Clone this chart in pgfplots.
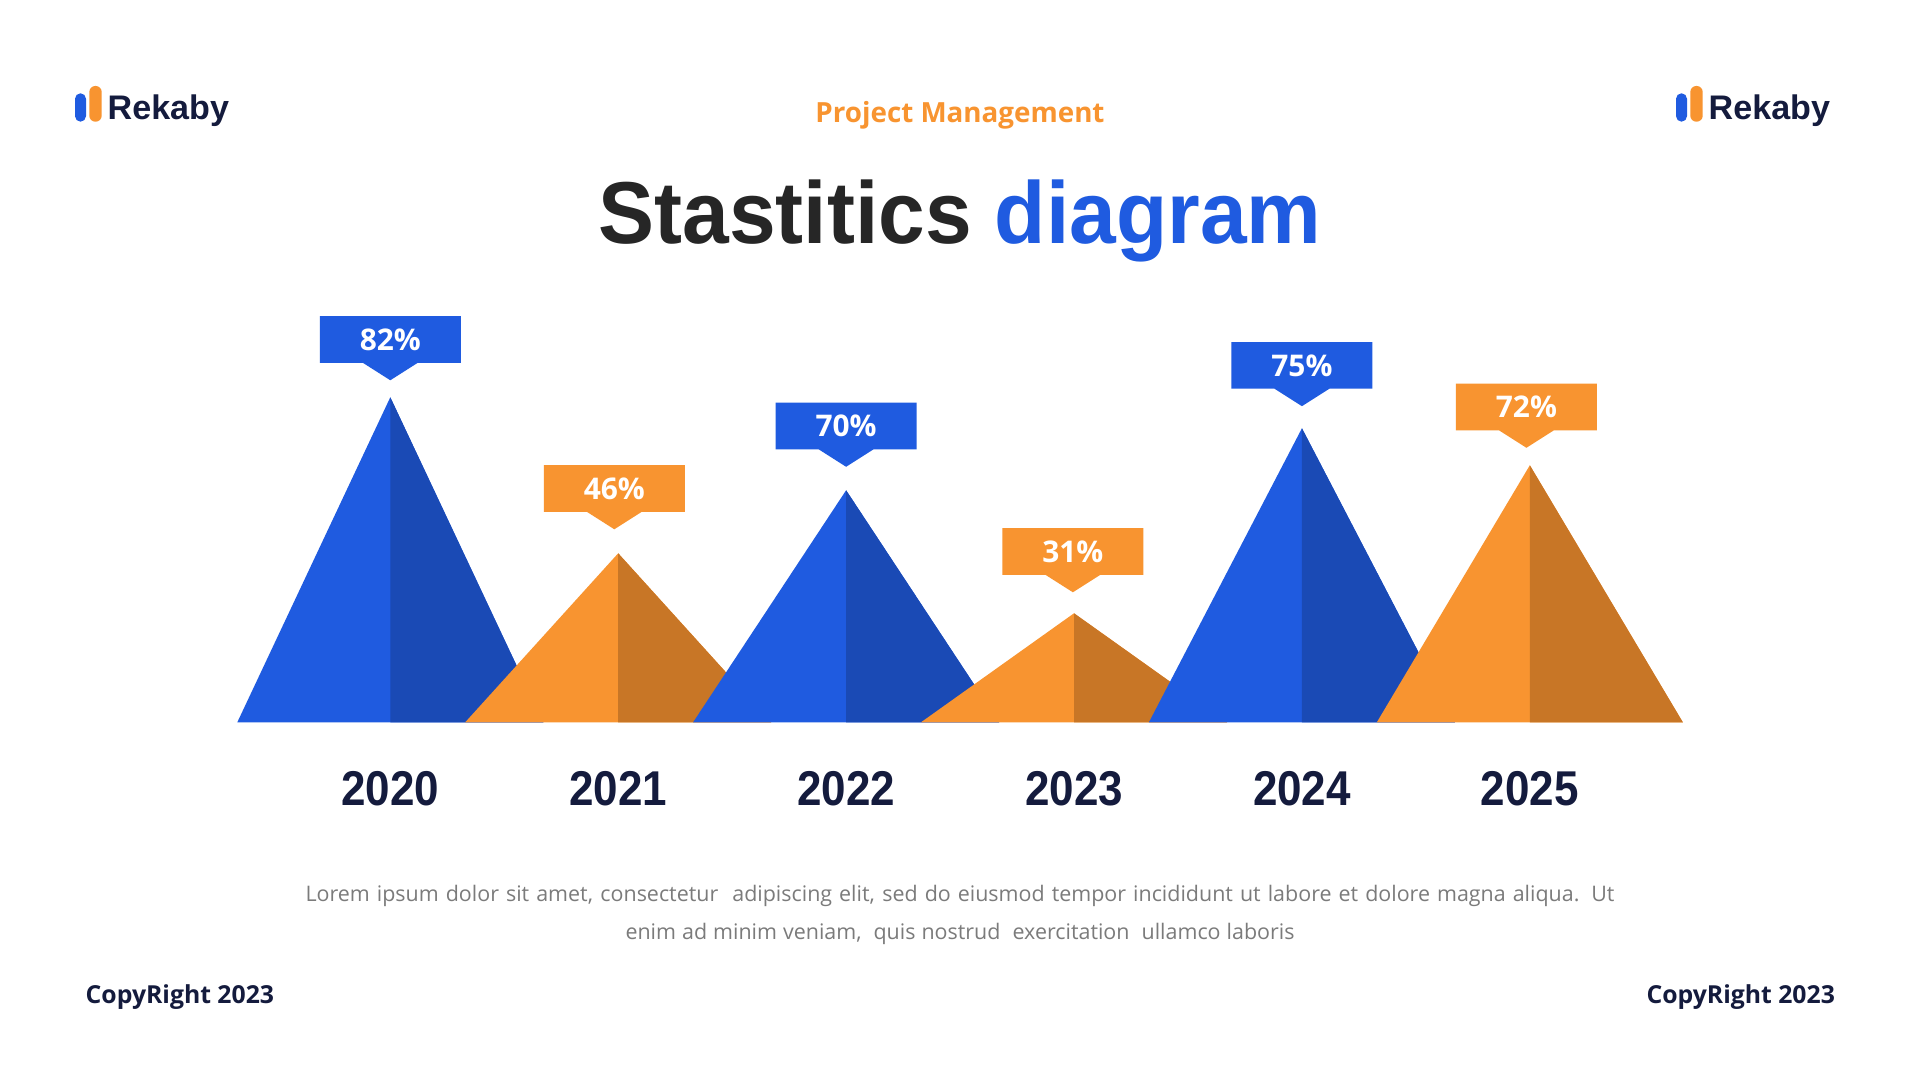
\documentclass[border=0pt]{standalone}
\usepackage{pgfplots}
\pgfplotsset{compat=1.18}
\usetikzlibrary{shapes.callouts}
\usepackage{fontspec}
\setmainfont{Open Sans}
\newfontfamily\titlefont{Liberation Sans}
\definecolor{bluel}{HTML}{1F5BE0}
\definecolor{blued}{HTML}{1A4AB5}
\definecolor{orl}{HTML}{F89430}
\definecolor{ord}{HTML}{C87626}
\definecolor{navy}{HTML}{141B3D}
\definecolor{ttl}{HTML}{262626}
\definecolor{bodygray}{HTML}{7B7B7B}

% triangle: left x, apex x, right x, height, light colour, dark colour
\newcommand{\mountain}[6]{%
  \addplot[fill=#5, draw=none] coordinates {(#1,0) (#2,#4) (#3,0)} -- cycle;
  \addplot[fill=#6, draw=none] coordinates {(#2,0) (#2,#4) (#3,0)} -- cycle;
}
% callout: x, box-bottom height, text, colour
\newcommand{\callout}[4]{%
  \node[rectangle callout, fill=#4, draw=none, anchor=south, inner sep=0,
        minimum width=1.41cm, minimum height=0.466cm,
        callout absolute pointer={([yshift=-0.168cm]axis cs:#1,#2)},
        callout pointer width=0.55cm,
        text=white, font=\fontsize{8.5pt}{10pt}\selectfont\bfseries]
     at (axis cs:#1,#2) {#3};
}
\newcommand{\yearlab}[2]{%
  \node[anchor=base, inner sep=0, text=navy, font=\titlefont\fontsize{13.9pt}{16pt}\selectfont\bfseries]
     at (axis cs:#1,0) [yshift=-0.834cm] {\scalebox{0.9}[1]{#2}};
}

\begin{document}
\begin{tikzpicture}
\fill[white, use as bounding box] (0,0) rectangle (19.2,10.8);

% logos
\fill[bluel, rounded corners=0.055cm] (0.75,9.583) rectangle (0.86,9.867);
\fill[orl, rounded corners=0.06cm] (0.893,9.583) rectangle (1.017,9.94);
\node[anchor=base west, inner sep=0, text=navy, font=\titlefont\fontsize{9.7pt}{11pt}\selectfont\bfseries] at (1.07,9.60) {Rekaby};
\fill[bluel, rounded corners=0.055cm] (16.76,9.583) rectangle (16.87,9.867);
\fill[orl, rounded corners=0.06cm] (16.903,9.583) rectangle (17.027,9.94);
\node[anchor=base west, inner sep=0, text=navy, font=\titlefont\fontsize{9.7pt}{11pt}\selectfont\bfseries] at (17.08,9.60) {Rekaby};

% headings
\node[anchor=base, inner sep=0, text=orl, font=\fontsize{7.9pt}{9pt}\selectfont\bfseries] at (9.6,9.577) {Project Management};
\node[anchor=base, inner sep=0, font=\titlefont\fontsize{25pt}{30pt}\selectfont\bfseries] at (9.6,8.367)
  {\scalebox{0.955}[1]{\textcolor{ttl}{Stastitics} \textcolor{bluel}{diagram}}};

\begin{axis}[
  at={(2.373cm,3.577cm)}, anchor=south west,
  scale only axis, width=14.455cm, height=3.40cm,
  xmin=-0.6713, xmax=5.6713, ymin=0, ymax=340,
  hide axis, clip=false,
]
\mountain{-0.6713}{0}{0.6713}{325}{bluel}{blued}
\mountain{0.3287}{1}{1.6713}{169}{orl}{ord}
\mountain{1.3287}{2}{2.6713}{232}{bluel}{blued}
\mountain{2.3287}{3}{3.6713}{109}{orl}{ord}
\mountain{3.3287}{4}{4.6713}{294}{bluel}{blued}
\mountain{4.3287}{5}{5.6713}{257}{orl}{ord}

\callout{0}{358.8}{82\%}{bluel}
\callout{0.983}{209.8}{46\%}{orl}
\callout{2}{272.3}{70\%}{bluel}
\callout{2.995}{146.8}{31\%}{orl}
\callout{4}{332.9}{75\%}{bluel}
\callout{4.985}{291.3}{72\%}{orl}

\yearlab{0}{2020}
\yearlab{1}{2021}
\yearlab{2}{2022}
\yearlab{3}{2023}
\yearlab{4}{2024}
\yearlab{5}{2025}
\end{axis}

% body text
\node[anchor=base, inner sep=0, text=bodygray, font=\fontsize{6.1pt}{7pt}\selectfont] at (9.6,1.783)
  {\makebox[13.09cm][s]{Lorem ipsum dolor sit amet, consectetur\ \ adipiscing elit, sed do eiusmod tempor incididunt ut labore et dolore magna aliqua.  Ut}};
\node[anchor=base, inner sep=0, text=bodygray, font=\fontsize{6.1pt}{7pt}\selectfont] at (9.6,1.40)
  {\makebox[6.69cm][s]{enim ad minim veniam,\ \ quis nostrud\ \ exercitation\ \ ullamco laboris}};

% footer
\node[anchor=base west, inner sep=0, text=navy, font=\fontsize{7.05pt}{9pt}\selectfont\bfseries] at (0.85,0.767) {CopyRight 2023};
\node[anchor=base east, inner sep=0, text=navy, font=\fontsize{7.05pt}{9pt}\selectfont\bfseries] at (18.356,0.767) {CopyRight 2023};
\end{tikzpicture}
\end{document}
